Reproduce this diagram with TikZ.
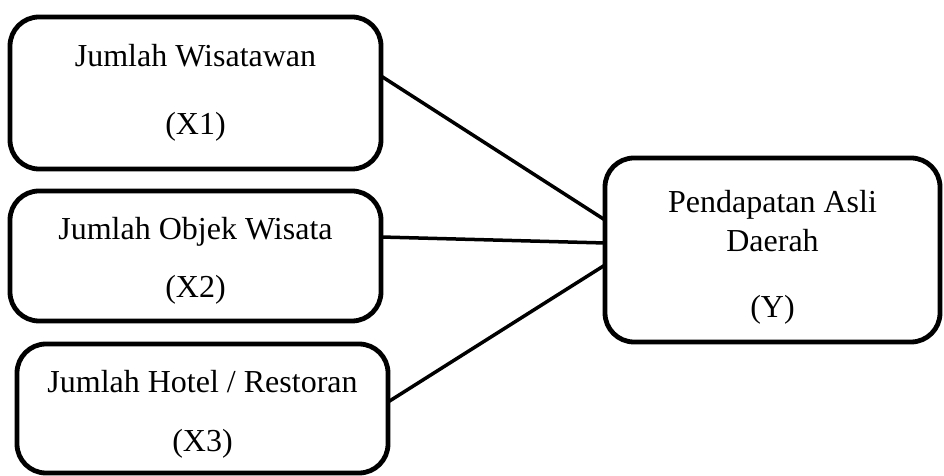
\documentclass[tikz,border=0pt]{standalone}
\usepackage{fontspec}
\setmainfont{Liberation Serif}
\newcommand{\topgap}[1]{\rule{0pt}{#1}}
\begin{document}
\begin{tikzpicture}[x=1pt,y=1pt,
  box/.style={draw, line width=4.8pt, rounded corners=29pt, inner sep=0pt, outer sep=0pt,
    align=center, font=\fontsize{32}{38}\selectfont},
  link/.style={line width=3.5pt}]
\useasboundingbox (0,0) rectangle (944,476);
\node[box, minimum width=371pt, minimum height=152pt] (x1) at (195.5,383)
  {Jumlah Wisatawan\\[30pt](X1)};
\node[box, minimum width=371pt, minimum height=130pt] (x2) at (195.5,220)
  {\topgap{32pt}Jumlah Objek Wisata\\[20pt](X2)};
\node[box, minimum width=371pt, minimum height=129pt] (x3) at (202.5,67.5)
  {\topgap{34pt}Jumlah Hotel / Restoran\\[21pt](X3)};
\node[box, minimum width=335pt, minimum height=184pt] (y) at (772.5,226)
  {\topgap{37pt}Pendapatan Asli\\[1pt]Daerah\\[28pt](Y)};
\draw[link] ([yshift=17pt]x1.east) -- ([yshift=30pt]y.west);
\draw[link] ([yshift=19pt]x2.east) -- ([yshift=7pt]y.west);
\draw[link] ([yshift=6.5pt]x3.east) -- ([yshift=-15pt]y.west);
\end{tikzpicture}
\end{document}
